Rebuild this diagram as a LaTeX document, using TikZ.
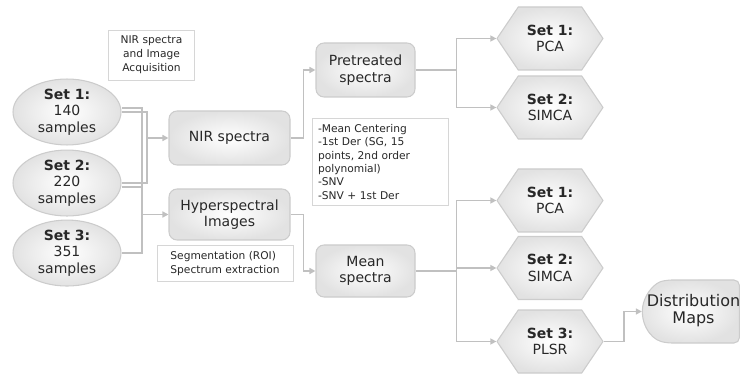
\documentclass[tikz,border=0pt]{standalone}
\usepackage{fontspec}
\setmainfont{DejaVu Sans}
\usepackage{xcolor}
\usepackage{tikz}
\usetikzlibrary{shapes.geometric, shapes.misc, shapes.symbols, arrows.meta, positioning, calc}
\definecolor{flowline}{RGB}{192,192,192}
\definecolor{flowedge}{RGB}{204,204,204}
\definecolor{flowfill}{RGB}{226,226,226}
\definecolor{flowtext}{RGB}{40,40,40}
\definecolor{noteedge}{RGB}{214,214,214}

\begin{document}
\begin{tikzpicture}[
    x=0.75pt, y=-0.75pt,
    every node/.style={text=flowtext},
    setbox/.style={ellipse, draw=flowedge, line width=0.8pt, inner color=white, outer color=flowfill, minimum width=81pt, minimum height=45.75pt, inner sep=0pt, align=center, font=\fontsize{10.5}{12.5}\selectfont},
    stepbox/.style={rectangle, rounded corners=6pt, draw=flowedge, line width=0.8pt, inner color=white, outer color=flowfill, minimum width=74.25pt, minimum height=40.5pt, inner sep=0pt, align=center, font=\fontsize{10.5}{12.5}\selectfont},
    hexbox/.style={signal, signal to=west and east, signal pointer angle=112, draw=flowedge, line width=0.8pt, inner color=white, outer color=flowfill, minimum width=79.5pt, minimum height=47.25pt, inner sep=0pt, align=center, font=\fontsize{10.5}{12.5}\selectfont},
    mapbox/.style={rounded rectangle, rounded rectangle east arc=none, rounded rectangle arc length=150, rounded corners=4pt, draw=flowedge, line width=0.8pt, inner color=white, outer color=flowfill, minimum width=72.75pt, minimum height=47.25pt, inner sep=0pt, font=\fontsize{12}{13.3}\selectfont},
    notebox/.style={rectangle, draw=noteedge, line width=0.6pt, fill=white, inner sep=4.5pt, font=\fontsize{8}{10}\selectfont},
    link/.style={draw=flowline, line width=1.3pt},
    arrowline/.style={link, -{Triangle[length=4.5pt, width=4.5pt]}}
]
\useasboundingbox (0,0) rectangle (743,374);

\node[notebox, align=center, font=\fontsize{8}{10.5}\selectfont, minimum width=65pt, minimum height=37.5pt] (acq) at (151.5,55) {NIR spectra\\and Image\\Acquisition};

\node[setbox] (set1) at (67,112) {\textbf{Set 1:}\\140\\samples};
\node[setbox, below=3pt of set1] (set2) {\textbf{Set 2:}\\220\\samples};
\node[setbox, below=2.25pt of set2] (set3) {\textbf{Set 3:}\\351\\samples};

\node[stepbox, minimum width=90.75pt] (nir) at (229.5,138) {NIR spectra};
\node[stepbox, minimum width=90.75pt, minimum height=38.25pt] (hyp) at (229.5,214.5) {Hyperspectral\\Images};
\node[notebox, align=left, minimum width=102pt, minimum height=24.75pt] (seg) at (225,263.5) {Segmentation (ROI)\\Spectrum extraction};

\node[stepbox] (pre) at (365.5,70) {Pretreated\\spectra};
\node[stepbox, minimum height=39pt] (mean) at (365.5,271) {Mean\\spectra};
\node[notebox, align=left, text width=93pt, minimum height=64.5pt] (pret) at (380,162) {-Mean Centering\\-1st Der (SG, 15\\points, 2nd order\\polynomial)\\-SNV\\-SNV + 1st Der};

\node[hexbox] (pca1) at (550,38.5) {\textbf{Set 1:}\\PCA};
\node[hexbox] (simca1) at (550,107.5) {\textbf{Set 2:}\\SIMCA};
\node[hexbox] (pca2) at (550,200.5) {\textbf{Set 1:}\\PCA};
\node[hexbox] (simca2) at (550,268) {\textbf{Set 2:}\\SIMCA};
\node[hexbox] (plsr) at (550,341.5) {\textbf{Set 3:}\\PLSR};

\node[mapbox] (dmaps) at (693.5,311.5) {\makebox[0pt]{\begin{tabular}{@{}c@{}}Distribution\\Maps\end{tabular}}};

\coordinate (busA) at (147,0);
\coordinate (busB) at (142,0);
\draw[link] (set1.east) -| (busA |- set2.east) -- (set2.east);
\draw[link] ([yshift=3pt]set1.east) -| (busB |- set3.east) -- (set3.east);
\draw[link] ([yshift=-3pt]set2.east) -- ([yshift=-3pt]set2.east -| busB);
\draw[arrowline] (busA |- nir.west) -- (nir.west);
\draw[arrowline] (busB |- hyp.west) -- (hyp.west);

\draw[arrowline] (nir.east) -- ++(9.75pt,0) |- (pre.west);
\draw[arrowline] (hyp.east) -- ++(9.75pt,0) |- (mean.west);

\draw[arrowline] (pre.east) -- ++(30.75pt,0) coordinate (j1) |- (pca1.west);
\draw[arrowline] (j1) |- (simca1.west);
\draw[arrowline] (mean.east) -- ++(30.75pt,0) coordinate (j2) |- (pca2.west);
\draw[arrowline] (j2) |- (simca2.west);
\draw[arrowline] (j2) |- (plsr.west);

\draw[arrowline] (plsr.east) -- ++(15pt,0) |- (dmaps.west);
\end{tikzpicture}
\end{document}
